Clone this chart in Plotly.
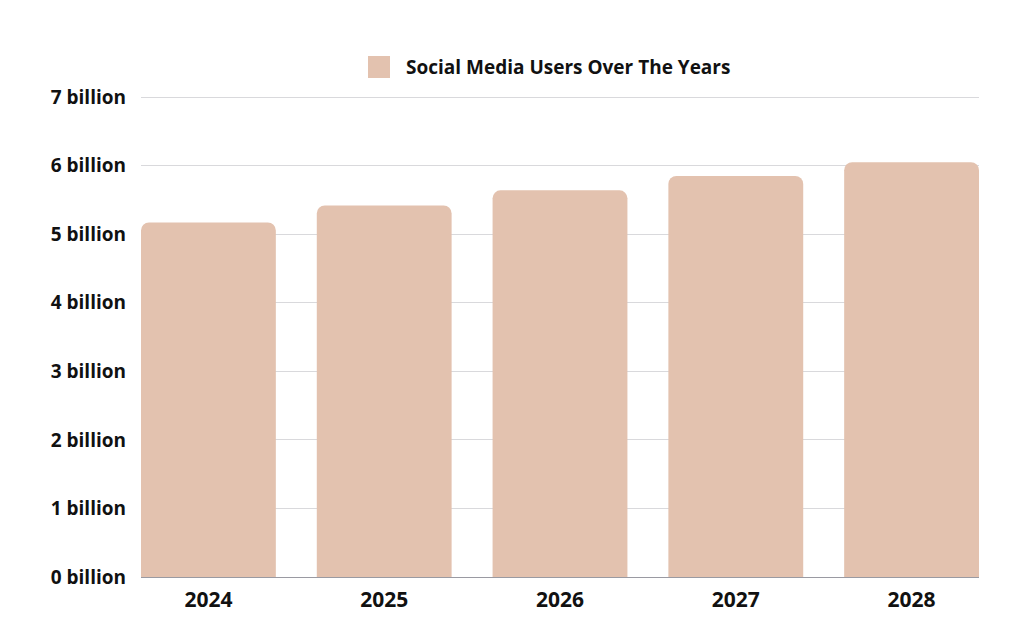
import plotly.graph_objects as go

# chart data
years = ["2024", "2025", "2026", "2027", "2028"]
users_billion = [5.17, 5.42, 5.64, 5.85, 6.05]
tick_vals = [0, 1, 2, 3, 4, 5, 6, 7]
tick_text = [f"{v} billion" for v in tick_vals]
series_name = "Social Media Users Over The Years"

bar_color = "#E3C2AF"
gap = 0.233
font_family = "Open Sans"

# plot box (page is offset 8px by the body margin)
ml, mr, mt, mb = 133, 37, 87, 55
pw, ph = 1008 - ml - mr, 624 - mt - mb

fig = go.Figure()
fig.add_trace(go.Bar(
    x=years, y=users_billion,
    name=series_name,
    marker=dict(color=bar_color, line=dict(width=0)),
    showlegend=False,
))

# legend drawn by hand so the swatch is a big square like the original
fig.add_shape(type="rect", xref="paper", yref="paper",
              x0=(360 - ml) / pw, x1=(382 - ml) / pw,
              y0=1 + (mt - 70) / ph, y1=1 + (mt - 48) / ph,
              fillcolor=bar_color, line=dict(width=0))
fig.add_annotation(text=series_name, xref="paper", yref="paper",
                   x=(396 - ml) / pw, y=1 + (mt - 59) / ph,
                   xanchor="left", yanchor="middle", showarrow=False,
                   font=dict(family=font_family, size=19, weight="bold", color="#111111"))

fig.update_layout(
    width=1008, height=624,
    margin=dict(l=ml, r=mr, t=mt, b=mb),
    paper_bgcolor="white", plot_bgcolor="white",
    font=dict(family=font_family, size=19, color="#111111"),
    bargap=gap,
    barcornerradius=8,
)
fig.update_xaxes(
    type="category",
    range=[-0.5 + gap / 2, 4.5 - gap / 2],
    showgrid=False, showline=True, linecolor="#9a9aa2", linewidth=1,
    tickfont=dict(size=21, weight="bold"), ticks="", ticklabelstandoff=4,
)
fig.update_yaxes(
    range=[0, 7.03], tickvals=tick_vals, ticktext=tick_text,
    showgrid=True, gridcolor="#d9d9dc", gridwidth=1,
    zeroline=False, showline=False, ticks="",
    tickfont=dict(size=19, weight="bold"), ticklabelstandoff=14,
)

fig.write_html("out.html")
